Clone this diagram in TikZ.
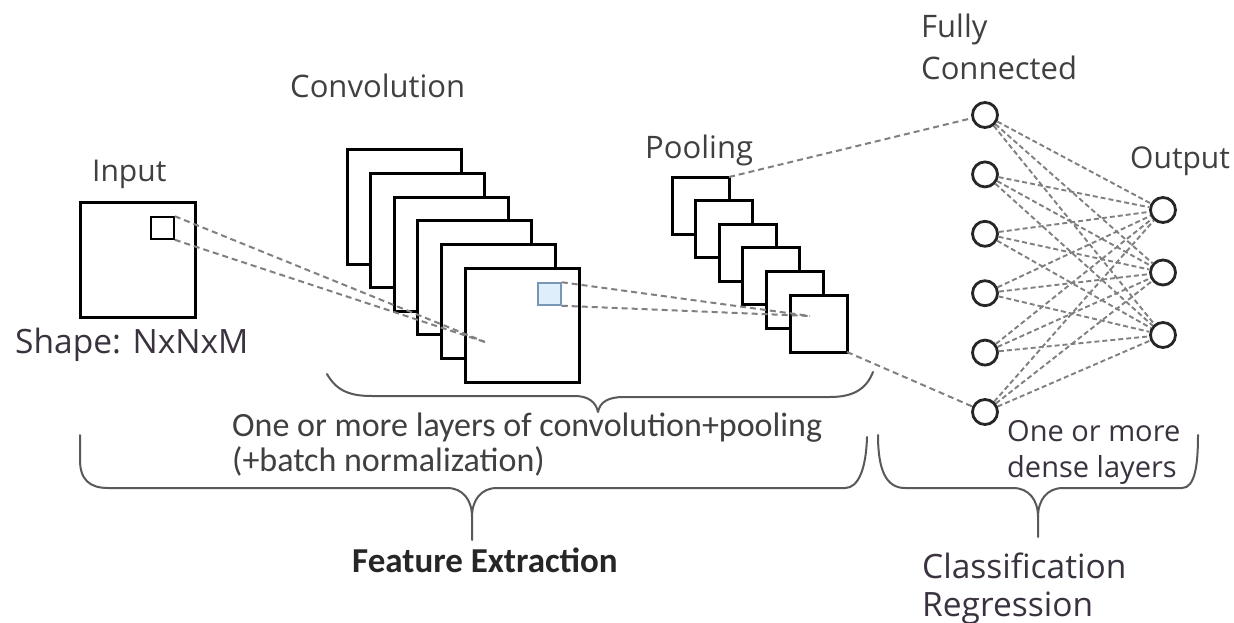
\documentclass[tikz,border=0pt]{standalone}
\usepackage{fontspec}
\setmainfont{Open Sans}
\newfontfamily\carl{Carlito}
\definecolor{txt}{RGB}{64,64,64}
\definecolor{txtd}{RGB}{58,50,62}
\definecolor{kfill}{RGB}{222,238,250}
\definecolor{kdraw}{RGB}{120,150,182}
\begin{document}
\begin{tikzpicture}[x=1pt,y=-1pt,
  fmap/.style={draw=black,fill=white,line width=3pt,inner sep=0pt,outer sep=0pt},
  conv/.style={fmap,minimum size=114pt},
  pool/.style={fmap,minimum size=57pt},
  kern/.style={draw=black,fill=white,line width=1.6pt,inner sep=0pt,minimum width=23pt,minimum height=22pt},
  bluek/.style={draw=kdraw,fill=kfill,line width=1.5pt,inner sep=0pt,minimum width=23pt,minimum height=22pt},
  dash line/.style={draw=black!50,line width=2pt,dash pattern=on 6pt off 4pt},
  neuron/.style={circle,draw=black!85,fill=white,line width=2.8pt,minimum size=25pt,inner sep=0pt},
  brace/.style={draw=black!65,line width=2pt,line cap=round,line join=round},
  lbl/.style={anchor=base west,inner sep=0pt,text=txt,font=\fontsize{31}{37}\selectfont},
  lblc/.style={anchor=base west,inner sep=0pt,text=txt,font=\carl\fontsize{34}{40}\selectfont},
  lbld/.style={anchor=base west,inner sep=0pt,text=txtd,font=\fontsize{29}{35}\selectfont},
  lblb/.style={anchor=base west,inner sep=0pt,text=txtd,font=\fontsize{33.5}{40}\selectfont}
]
\useasboundingbox (0,0) rectangle (1234,623);
\fill[white] (0,0) rectangle (1234,623);

% input
\node[fmap,minimum size=115pt] (in) at (137.5,259.5) {};
\node[kern] (ink) at (162.5,228) {};

% convolution stack
\foreach \i in {0,...,5}{
  \node[conv] (c\i) at ({404+23.6*\i},{207+23.6*\i}) {};
}
\node[bluek] (bk) at (549.5,294) {};

% pooling stack
\foreach \i in {0,...,5}{
  \node[pool] (p\i) at ({700.5+23.6*\i},{205.5+23.6*\i}) {};
}

% fully connected and output
\foreach \i in {1,...,6}{
  \node[neuron] (f\i) at (985,{115+59.4*(\i-1)}) {};
}
\foreach \j in {1,2,3}{
  \node[neuron] (o\j) at (1163,{210+62.5*(\j-1)}) {};
}

% dashed connections
\coordinate (ca) at (485,342);
\coordinate (pa) at (810,316);
\draw[dash line] (ink.north east) -- (ca);
\draw[dash line] (ink.south east) -- (ca);
\draw[dash line] (bk.north east) -- (pa);
\draw[dash line] (bk.south east) -- (pa);
\draw[dash line] (p0.north east) -- (f1);
\draw[dash line] (p5.south east) -- (f6);
\foreach \i in {1,...,6}{
  \foreach \j in {1,2,3}{
    \draw[dash line,line width=1.9pt,dash pattern=on 5pt off 3pt] (f\i) -- (o\j);
  }
}

% braces
\draw[brace] (327,374) .. controls (337,392) and (352,396) .. (372,396) -- (575,396)
  .. controls (588,396) and (596,402) .. (598,412)
  .. controls (600,402) and (608,397) .. (624,397) -- (830,397)
  .. controls (852,397) and (866,390) .. (873,372);
\draw[brace] (80,435) -- (80,460) .. controls (80,480) and (90,488) .. (108,488) -- (447,488)
  .. controls (463,488) and (472,500) .. (472,517) -- (472,540);
\draw[brace] (472,517) .. controls (472,500) and (481,488) .. (497,488) -- (845,488)
  .. controls (858,488) and (866,470) .. (867,437);
\draw[brace] (878,435) .. controls (878,470) and (886,488) .. (905,488) -- (1013,488)
  .. controls (1029,488) and (1038,500) .. (1038,517) -- (1038,537);
\draw[brace] (1038,517) .. controls (1038,500) and (1047,488) .. (1063,488) -- (1182,488)
  .. controls (1195,488) and (1198,465) .. (1198,435);

% labels
\node[lbl,font=\fontsize{30}{36}\selectfont] (tin) at (92,182) {Input};
\node[lbl] (tconv) at (290,98) {Convolution};
\node[lbl] (tpool) at (645,158) {Pooling};
\node[lbl] (tfc1) at (921,38) {Fully};
\node[lbl] (tfc2) at (921,80) {Connected};
\node[lbl,font=\fontsize{30}{36}\selectfont] (tout) at (1130,168) {Output};
\node[lblb] (tshape) at (15,353) {Shape: NxNxM};
\node[lblc] (tlay1) at (232,436) {One or more layers of convolution+pooling};
\node[lblc] (tlay2) at (232,471) {(+batch normalization)};
\node[anchor=base,inner sep=0pt,text=black!85,font=\carl\bfseries\fontsize{35}{40}\selectfont] (tfe) at (485,572) {Feature Extraction};
\node[lbld] (tdense1) at (1007,441) {One or more};
\node[lbld] (tdense2) at (1007,477) {dense layers};
\node[lblb] (tcls1) at (922,578) {Classification};
\node[lblb] (tcls2) at (922,616) {Regression};
\end{tikzpicture}
\end{document}
